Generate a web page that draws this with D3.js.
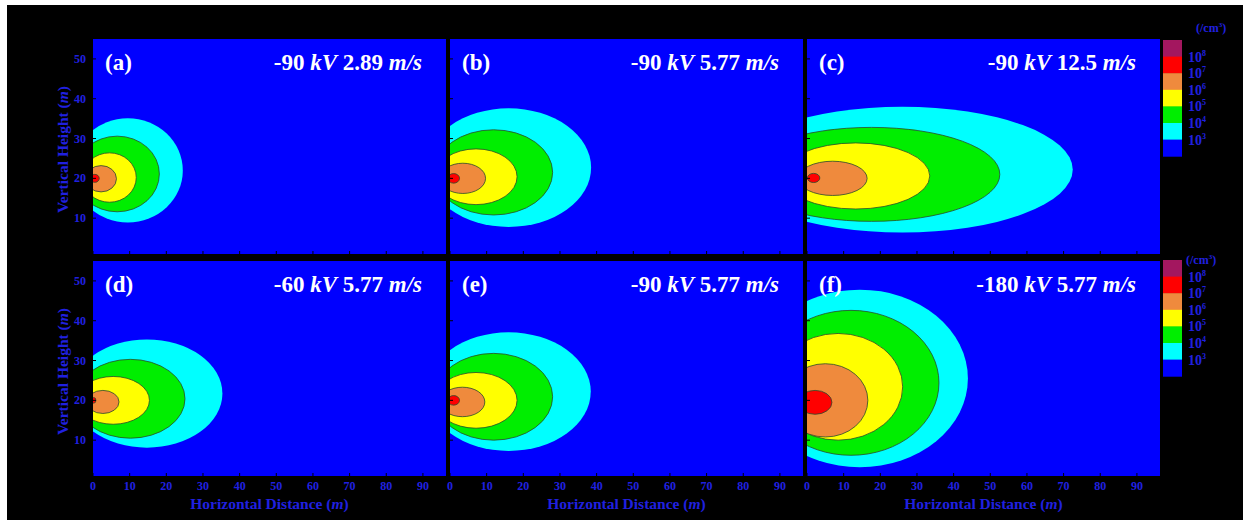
<!DOCTYPE html>
<html>
<head>
<meta charset="utf-8">
<script src="https://cdn.jsdelivr.net/npm/d3@7"></script>
<style>
body { margin: 0; background: #fff; }
text { font-family: "Liberation Serif", "Times New Roman", serif; font-weight: bold; }
</style>
</head>
<body>
<div id="container"></div>
<script>
// panel texts
const panelTags = ["(a)", "(b)", "(c)", "(d)", "(e)", "(f)"];
const voltages = ["-90", "-90", "-90", "-60", "-90", "-180"];
const speeds = ["2.89", "5.77", "12.5", "5.77", "5.77", "5.77"];

// axis ticks (m)
const xTicks = [0, 10, 20, 30, 40, 50, 60, 70, 80, 90];
const yTicks = [10, 20, 30, 40, 50];

// colour levels, top of the bar first (/cm3)
const levelExp = ["8", "7", "6", "5", "4", "3"];
const levelColors = ["#a3175f", "#ff0000", "#ef8a3d", "#ffff00", "#00ee00", "#00ffff", "#0000ff"];

// contours per panel: [level index, centre x, centre y, half width, half height] in m
const contA = [[5, 9.5, 22.0, 15.0, 13.1], [4, 6.6, 21.1, 11.5, 9.5], [3, 4.5, 20.2, 7.3, 6.2], [2, 2.2, 19.9, 4.2, 3.3], [1, 0.5, 20.0, 1.2, 1.0]];
const contB = [[5, 16.0, 22.7, 22.5, 14.9], [4, 11.9, 21.5, 16.1, 10.7], [3, 7.1, 20.4, 11.2, 7.0], [2, 3.5, 20.0, 6.2, 3.8], [1, 1.0, 20.0, 1.6, 1.2]];
const contC = [[5, 26.0, 22.2, 46.5, 15.8], [4, 17.6, 21.0, 35.0, 11.8], [3, 13.3, 20.6, 20.2, 8.3], [2, 7.0, 20.0, 9.4, 4.3], [1, 1.8, 20.1, 1.7, 1.15]];
const contD = [[5, 14.7, 21.7, 20.6, 13.6], [4, 10.2, 20.4, 14.9, 9.9], [3, 5.5, 20.0, 9.9, 6.0], [2, 2.7, 19.6, 4.4, 2.9], [1, 0.2, 20.0, 0.6, 0.7]];
const contE = [[5, 16.0, 22.2, 22.4, 14.9], [4, 11.9, 20.9, 16.1, 10.9], [3, 7.1, 20.0, 11.2, 7.0], [2, 3.4, 19.6, 6.1, 3.7], [1, 1.0, 20.0, 1.6, 1.2]];
const contF = [[5, 14.4, 25.5, 29.5, 22.3], [4, 12.0, 24.4, 24.0, 18.2], [3, 8.5, 23.4, 17.6, 13.4], [2, 5.0, 20.0, 11.6, 9.2], [1, 2.2, 19.5, 4.6, 3.0]];
const contours = [contA, contB, contC, contD, contE, contF];

//枠
let width = 1250;
let height = 525;
const colX = [93, 450, 807];
const rowY = [39, 261];
const panelW = 353;
const panelH = 215;
const blueText = "#2020e0";

var svg = d3.select("#container").append("svg")
  .attr("width", width)
  .attr("height", height);

svg.append("rect")
  .attr("x", 7).attr("y", 5)
  .attr("width", 1236).attr("height", 515)
  .attr("fill", "#000");

var x = d3.scaleLinear().domain([0, 96.3]).range([0, panelW]);
var y = d3.scaleLinear().domain([1, 55]).range([panelH, 0]);

panelTags.forEach(function(tag, i) {
  var col = i % 3, row = Math.floor(i / 3);
  var g = svg.append("g")
    .attr("transform", "translate(" + colX[col] + "," + rowY[row] + ")");

  g.append("clipPath").attr("id", "clip" + i)
    .append("rect").attr("width", panelW).attr("height", panelH);

  g.append("rect")
    .attr("width", panelW).attr("height", panelH)
    .attr("fill", levelColors[6]);

  //等値線
  g.append("g").attr("clip-path", "url(#clip" + i + ")")
    .selectAll("ellipse")
    .data(contours[i])
    .enter().append("ellipse")
    .attr("cx", function(d) { return x(d[1]); })
    .attr("cy", function(d) { return y(d[2]); })
    .attr("rx", function(d) { return x(d[1] + d[3]) - x(d[1]); })
    .attr("ry", function(d) { return y(d[2] - d[4]) - y(d[2]); })
    .attr("fill", function(d) { return levelColors[d[0]]; })
    .attr("stroke", function(d) { return d[0] === 5 ? "none" : "#2b4a2b"; })
    .attr("stroke-width", 0.8);

  //目盛り線
  g.selectAll(".xt").data(xTicks).enter().append("line")
    .attr("x1", function(d) { return x(d); }).attr("x2", function(d) { return x(d); })
    .attr("y1", panelH).attr("y2", panelH - 3)
    .attr("stroke", "#000").attr("stroke-width", 1);
  g.selectAll(".yt").data(yTicks).enter().append("line")
    .attr("x1", 0).attr("x2", 3)
    .attr("y1", function(d) { return y(d); }).attr("y2", function(d) { return y(d); })
    .attr("stroke", "#000").attr("stroke-width", 1);

  g.append("text")
    .attr("x", 12).attr("y", 31)
    .attr("fill", "#fff").attr("font-size", 23)
    .text(tag);

  var t = g.append("text")
    .attr("x", panelW - 24).attr("y", 31)
    .attr("text-anchor", "end")
    .attr("fill", "#fff").attr("font-size", 23);
  t.append("tspan").text(voltages[i] + " ");
  t.append("tspan").attr("font-style", "italic").text("kV");
  t.append("tspan").text(" " + speeds[i] + " ");
  t.append("tspan").attr("font-style", "italic").text("m/s");

  if (col === 0) {
    g.selectAll(".ytick").data(yTicks).enter().append("text")
      .attr("x", -7).attr("y", function(d) { return y(d) + 4; })
      .attr("text-anchor", "end")
      .attr("fill", blueText).attr("font-size", 12)
      .text(function(d) { return d; });
    var yt = g.append("text")
      .attr("transform", "translate(-25," + (panelH / 2 + 3) + ") rotate(-90)")
      .attr("text-anchor", "middle")
      .attr("fill", blueText).attr("font-size", 15.5);
    yt.append("tspan").text("Vertical Height (");
    yt.append("tspan").attr("font-style", "italic").text("m");
    yt.append("tspan").text(")");
  }

  if (row === 1) {
    g.selectAll(".xtick").data(xTicks).enter().append("text")
      .attr("x", function(d) { return x(d); })
      .attr("y", panelH + 14)
      .attr("text-anchor", "middle")
      .attr("fill", blueText).attr("font-size", 12)
      .text(function(d) { return d; });
    var xt = g.append("text")
      .attr("x", panelW / 2).attr("y", panelH + 33)
      .attr("text-anchor", "middle")
      .attr("fill", blueText).attr("font-size", 15.5);
    xt.append("tspan").text("Horizontal Distance (");
    xt.append("tspan").attr("font-style", "italic").text("m");
    xt.append("tspan").text(")");
  }
});

//カラーバー
var barTop = [40, 260];
var segH = 16.6;
barTop.forEach(function(top, k) {
  var bar = svg.append("g").attr("transform", "translate(1163," + top + ")");
  bar.selectAll("rect").data(levelColors).enter().append("rect")
    .attr("x", 0)
    .attr("y", function(d, j) { return j * segH; })
    .attr("width", 19).attr("height", segH + 0.5)
    .attr("fill", function(d) { return d; });

  var lab = bar.selectAll(".lab").data(levelExp).enter().append("text")
    .attr("x", 25)
    .attr("y", function(d, j) { return (j + 1) * segH + 5; })
    .attr("fill", blueText).attr("font-size", 14);
  lab.append("tspan").text("10");
  lab.append("tspan").attr("font-size", 8).attr("dy", -6).text(function(d) { return d; });

  var unit = bar.append("text")
    .attr("x", k === 0 ? 33 : 23).attr("y", k === 0 ? -8 : 4)
    .attr("fill", blueText).attr("font-size", 12);
  unit.append("tspan").text("(/cm");
  unit.append("tspan").attr("font-size", 7).attr("dy", -5).text("3");
  unit.append("tspan").attr("dy", 5).text(")");
});
</script>
</body>
</html>
